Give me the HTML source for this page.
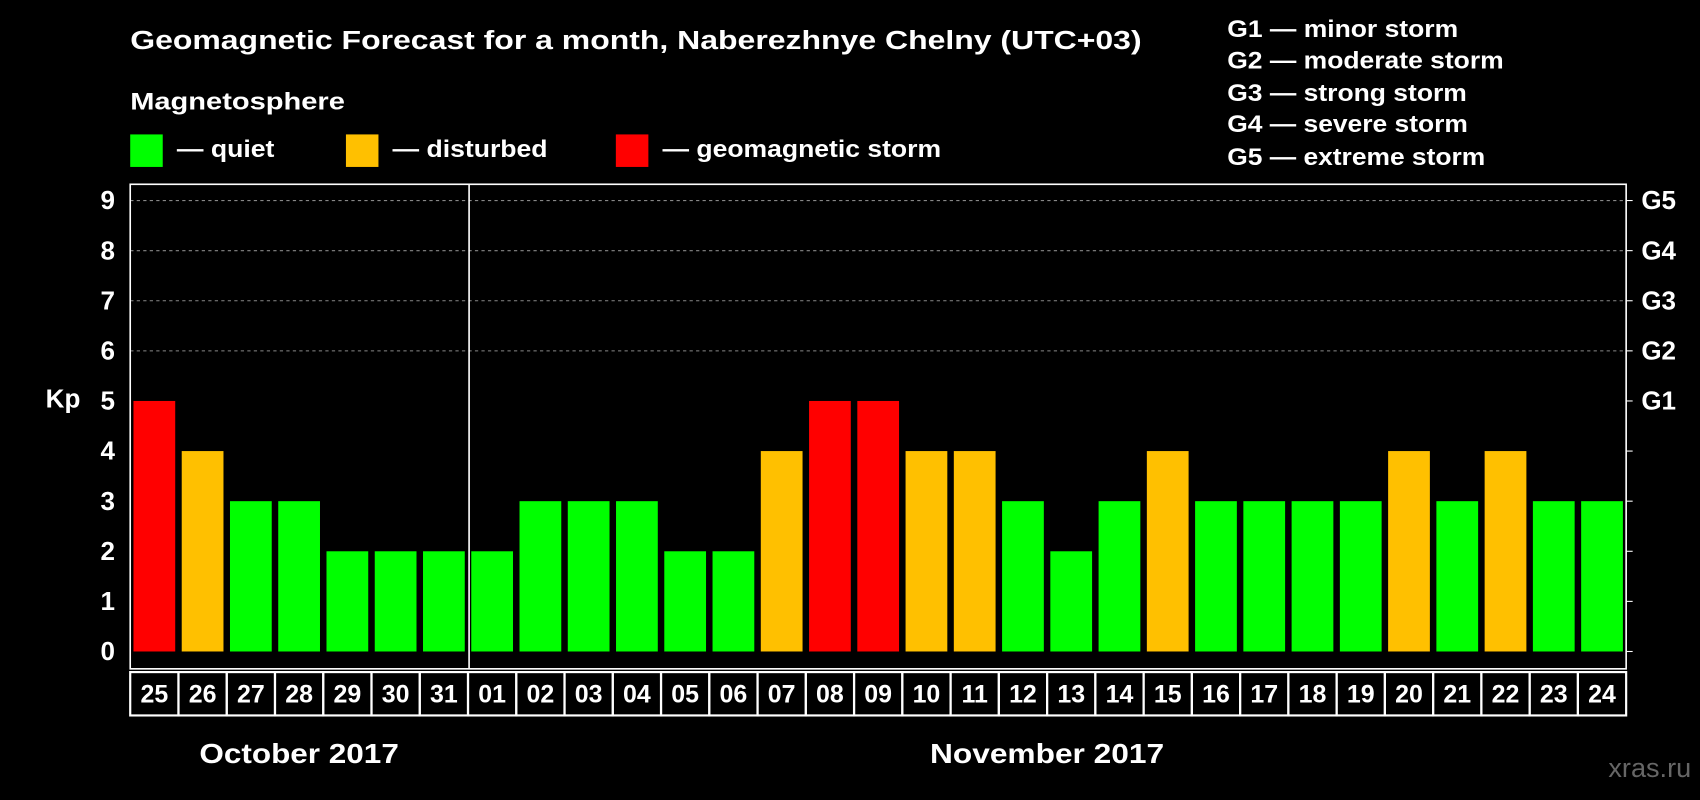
<!DOCTYPE html>
<html><head><meta charset="utf-8"><style>
html,body{margin:0;padding:0;background:#000;}
svg{display:block;font-family:"Liberation Sans",Arial,sans-serif;font-weight:bold;}
</style></head><body>
<svg id="chart" width="1700" height="800" viewBox="0 0 1568 738" xmlns="http://www.w3.org/2000/svg">
<rect width="1568" height="738" fill="#000"/>
<text x="120" y="45" fill="#fff" font-size="24" textLength="933" lengthAdjust="spacingAndGlyphs">Geomagnetic Forecast for a month, Naberezhnye Chelny (UTC+03)</text>
<text x="120" y="101" fill="#fff" font-size="22" textLength="198" lengthAdjust="spacingAndGlyphs">Magnetosphere</text>
<g><rect x="120" y="124" width="30" height="30" fill="#00ff00"/><text x="163" y="145" fill="#fff" font-size="22" textLength="90" lengthAdjust="spacingAndGlyphs">— quiet</text></g>
<g><rect x="319" y="124" width="30" height="30" fill="#ffc000"/><text x="362" y="145" fill="#fff" font-size="22" textLength="143" lengthAdjust="spacingAndGlyphs">— disturbed</text></g>
<g><rect x="568" y="124" width="30" height="30" fill="#ff0000"/><text x="611" y="145" fill="#fff" font-size="22" textLength="257" lengthAdjust="spacingAndGlyphs">— geomagnetic storm</text></g>
<g fill="#fff" font-size="22">
<text x="1132" y="34" textLength="213" lengthAdjust="spacingAndGlyphs">G1 — minor storm</text>
<text x="1132" y="63" textLength="255" lengthAdjust="spacingAndGlyphs">G2 — moderate storm</text>
<text x="1132" y="93" textLength="221" lengthAdjust="spacingAndGlyphs">G3 — strong storm</text>
<text x="1132" y="122" textLength="222" lengthAdjust="spacingAndGlyphs">G4 — severe storm</text>
<text x="1132" y="152" textLength="238" lengthAdjust="spacingAndGlyphs">G5 — extreme storm</text>
</g>
<text x="58" y="376" fill="#fff" font-size="24" text-anchor="middle">Kp</text>
<text x="1560" y="717" fill="#666" font-size="25" font-weight="normal" text-anchor="end">xras.ru</text>
<g id="plot"></g>
</svg>
<script>
const days = ["25","26","27","28","29","30","31","01","02","03","04","05","06","07","08","09","10","11","12","13","14","15","16","17","18","19","20","21","22","23","24"];
const kpValues = [5,4,3,3,2,2,2,2,3,3,3,2,2,4,5,5,4,4,3,2,3,4,3,3,3,3,4,3,4,3,3];
const yTicks = [0,1,2,3,4,5,6,7,8,9];
const gLabels = ["","","","","","G1","G2","G3","G4","G5"];
const months = [{name:"October 2017",start:0,end:7,w:184},{name:"November 2017",start:7,end:31,w:216}];

const NS="http://www.w3.org/2000/svg";
const g=document.getElementById('plot');
const L=120,R=1500,T=170,B=617,Y0=601,Y9=185;
const step=(R-L)/days.length;
const y=v=>Y0-(Y0-Y9)*v/9;
const x=i=>L+i*step;
function mk(t,a){const e=document.createElementNS(NS,t);for(const k in a)e.setAttribute(k,a[k]);g.appendChild(e);return e;}
function color(v){return v>=5?"#ff0000":(v>=4?"#ffc000":"#00ff00");}

yTicks.forEach(v=>{
  if(v>=6){const ln=mk('line',{x1:L,x2:R,y1:y(v),y2:y(v),stroke:'#888','stroke-dasharray':'3,3','stroke-width':1});
  
  }
  const tk=mk('line',{x1:R,x2:R+6,y1:y(v),y2:y(v),stroke:'#fff','stroke-width':1});
  
  
  const t=mk('text',{x:106,y:y(v)+8,fill:'#fff','font-size':24,'text-anchor':'end'});t.textContent=v;
  
  
  if(gLabels[v]){const gt=mk('text',{x:1514,y:y(v)+8,fill:'#fff','font-size':24});gt.textContent=gLabels[v];
  
  }
});
kpValues.forEach((v,i)=>{
  const b=mk('rect',{x:x(i)+3,y:y(v),width:step-6,height:Y0-y(v),fill:color(v)});
  
  
  const c=mk('rect',{x:x(i),y:B+3,width:step,height:40,fill:'none',stroke:'#fff','stroke-width':2});
  
  
  const t=mk('text',{x:x(i)+step/2,y:B+31,fill:'#fff','font-size':23,'text-anchor':'middle'});t.textContent=days[i];
  
  
});
const frame=mk('rect',{x:L,y:T,width:R-L,height:B-T,fill:'none',stroke:'#fff','stroke-width':1.5});


const sep=mk('line',{x1:x(7)+1,x2:x(7)+1,y1:T,y2:B,stroke:'#fff','stroke-width':1.5});


months.forEach(m=>{
  const cx=(x(m.start)+x(m.end))/2;
  const t=mk('text',{x:cx-m.w/2,y:704,fill:'#fff','font-size':26,textLength:m.w,lengthAdjust:'spacingAndGlyphs'});t.textContent=m.name;
  
  
});
</script>
</body></html>
